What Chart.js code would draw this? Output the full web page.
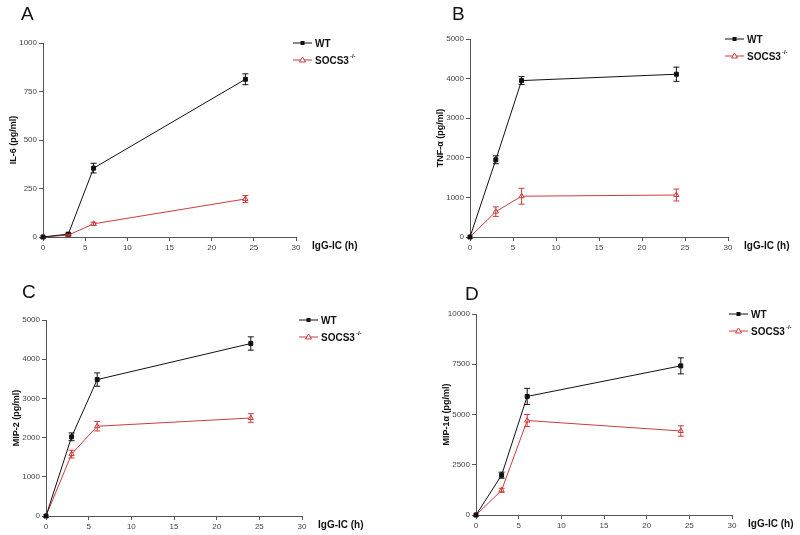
<!DOCTYPE html>
<html>
<head>
<meta charset="utf-8">
<script src="https://cdn.jsdelivr.net/npm/chart.js@4.4.1/dist/chart.umd.min.js"></script>
<style>
  body { margin: 0; background: #fff; }
  #wrap { position: relative; width: 800px; height: 535px; overflow: hidden; font-family: "Liberation Sans", Arial, sans-serif; }
  .panel { position: absolute; }
  .letter { position: absolute; font-size: 19px; color: #111; }
</style>
</head>
<body>
<div id="wrap">
  <canvas id="cA" class="panel" width="400" height="267" style="left:0;top:0"></canvas>
  <canvas id="cB" class="panel" width="400" height="267" style="left:400px;top:0"></canvas>
  <canvas id="cC" class="panel" width="400" height="268" style="left:0;top:267px"></canvas>
  <canvas id="cD" class="panel" width="400" height="268" style="left:400px;top:267px"></canvas>
  <div class="letter" style="left:21px;top:3px">A</div>
  <div class="letter" style="left:452px;top:3px">B</div>
  <div class="letter" style="left:22px;top:281px">C</div>
  <div class="letter" style="left:465px;top:283px">D</div>
</div>
<script>
// Dati (tempo in ore)
const hours = [0, 3, 6, 24];

const il6WT = [0, 15, 355, 813];
const il6WTErr = [0, 5, 25, 28];
const il6KO = [0, 10, 68, 196];
const il6KOErr = [0, 4, 8, 18];

const tnfWT = [0, 1950, 3950, 4110];
const tnfWTErr = [0, 100, 100, 180];
const tnfKO = [0, 640, 1030, 1060];
const tnfKOErr = [0, 120, 200, 150];

const mip2WT = [0, 2020, 3480, 4400];
const mip2WTErr = [0, 100, 170, 170];
const mip2KO = [0, 1580, 2290, 2500];
const mip2KOErr = [0, 100, 120, 110];

const mip1aWT = [0, 1980, 5900, 7420];
const mip1aWTErr = [0, 150, 400, 400];
const mip1aKO = [0, 1230, 4700, 4180];
const mip1aKOErr = [0, 100, 300, 260];

const seriesLabels = ["WT", "SOCS3"];
const xTitle = "IgG-IC (h)";

const BLACK = "#111111";
const RED = "#cc3b3b";
const AXIS = "#555555";
const FONT = "'Liberation Sans', Arial, sans-serif";

// Barre di errore
const errorBarsPlugin = {
  id: "errorBars",
  afterDatasetsDraw(chart) {
    const ctx = chart.ctx;
    const y = chart.scales.y;
    chart.data.datasets.forEach((ds, i) => {
      const meta = chart.getDatasetMeta(i);
      ctx.save();
      ctx.strokeStyle = ds.borderColor;
      ctx.lineWidth = 1;
      meta.data.forEach((pt, j) => {
        const e = ds.errors[j];
        if (!e) return;
        const v = ds.data[j].y;
        const y1 = y.getPixelForValue(v + e);
        const y2 = y.getPixelForValue(v - e);
        ctx.beginPath();
        ctx.moveTo(pt.x, y1); ctx.lineTo(pt.x, y2);
        ctx.moveTo(pt.x - 3, y1); ctx.lineTo(pt.x + 3, y1);
        ctx.moveTo(pt.x - 3, y2); ctx.lineTo(pt.x + 3, y2);
        ctx.stroke();
      });
      ctx.restore();
    });
  },
};

// Legenda e titolo asse x
const extrasPlugin = {
  id: "extras",
  afterDraw(chart) {
    const ctx = chart.ctx;
    const a = chart.chartArea;
    ctx.save();
    chart.data.datasets.forEach((ds, i) => {
      const ly = a.top + i * 17;
      const lx = a.right - 3;
      ctx.strokeStyle = ds.borderColor;
      ctx.lineWidth = 1;
      ctx.beginPath();
      ctx.moveTo(lx, ly); ctx.lineTo(lx + 19, ly);
      ctx.stroke();
      const mx = lx + 9.5;
      ctx.fillStyle = ds.pointBackgroundColor;
      ctx.beginPath();
      if (i === 0) {
        ctx.rect(mx - 2, ly - 2, 4, 4);
        ctx.fill();
      } else {
        ctx.moveTo(mx, ly - 3); ctx.lineTo(mx + 3, ly + 2); ctx.lineTo(mx - 3, ly + 2);
        ctx.closePath();
        ctx.fill(); ctx.stroke();
      }
      ctx.fillStyle = BLACK;
      ctx.font = "bold 10px " + FONT;
      ctx.textBaseline = "middle";
      ctx.textAlign = "left";
      const tx = lx + 22;
      ctx.fillText(ds.label, tx, ly + 1);
      if (i === 1) {
        const w = ctx.measureText(ds.label).width;
        ctx.font = "bold 6px " + FONT;
        ctx.fillText("-/-", tx + w + 1, ly - 4);
      }
    });
    ctx.fillStyle = BLACK;
    ctx.font = "bold 10px " + FONT;
    ctx.textBaseline = "middle";
    ctx.textAlign = "left";
    ctx.fillText(xTitle, a.right + 16, a.bottom + 9);
    ctx.restore();
  },
};

const makePanel = (id, ox, oy, W, H, area, yTitle, yMax, yStep, wt, wtErr, ko, koErr) => {
  const yWidth = 43;
  const xHeight = 18;
  const toPts = (arr) => arr.map((v, i) => ({ x: hours[i], y: v }));
  new Chart(document.getElementById(id), {
    type: "scatter",
    data: {
      datasets: [
        {
          label: seriesLabels[0],
          data: toPts(wt),
          errors: wtErr,
          showLine: true,
          borderColor: BLACK,
          borderWidth: 1,
          pointStyle: "rect",
          pointRadius: 2.8,
          pointBackgroundColor: BLACK,
          pointBorderColor: BLACK,
          clip: false,
        },
        {
          label: seriesLabels[1],
          data: toPts(ko),
          errors: koErr,
          showLine: true,
          borderColor: RED,
          borderWidth: 1,
          pointStyle: "triangle",
          pointRadius: 3,
          pointBackgroundColor: "#ffffff",
          pointBorderColor: RED,
          clip: false,
        },
      ],
    },
    options: {
      responsive: false,
      animation: false,
      events: [],
      layout: {
        padding: {
          left: area.left - ox - yWidth,
          top: area.top - oy,
          right: ox + W - area.right,
          bottom: oy + H - area.bottom - xHeight,
        },
      },
      plugins: { legend: { display: false }, tooltip: { enabled: false } },
      scales: {
        x: {
          type: "linear",
          min: 0,
          max: 30,
          ticks: {
            stepSize: 5, color: "#444", font: { size: 8, family: FONT }, padding: 2, maxRotation: 0,
            callback: (v) => String(v),
          },
          grid: { drawOnChartArea: false, color: AXIS, tickLength: 4 },
          border: { color: AXIS, width: 1 },
          afterFit: (s) => { s.height = xHeight; },
        },
        y: {
          min: 0,
          max: yMax,
          ticks: {
            stepSize: yStep, color: "#444", font: { size: 8, family: FONT }, padding: 2,
            callback: (v) => String(v),
          },
          grid: { drawOnChartArea: false, color: AXIS, tickLength: 4 },
          border: { color: AXIS, width: 1 },
          title: {
            display: true,
            text: yTitle,
            color: BLACK,
            font: { size: 9, weight: "bold", family: FONT },
            padding: { top: 8, bottom: 0 },
          },
          afterFit: (s) => { s.width = yWidth; },
        },
      },
    },
    plugins: [errorBarsPlugin, extrasPlugin],
  });
};

makePanel("cA", 0, 0, 400, 267, { left: 43, right: 296, top: 43, bottom: 237 },
  "IL-6 (pg/ml)", 1000, 250, il6WT, il6WTErr, il6KO, il6KOErr);
makePanel("cB", 400, 0, 400, 267, { left: 470, right: 728, top: 39, bottom: 237 },
  "TNF-α (pg/ml)", 5000, 1000, tnfWT, tnfWTErr, tnfKO, tnfKOErr);
makePanel("cC", 0, 267, 400, 268, { left: 46, right: 302, top: 320, bottom: 516 },
  "MIP-2 (pg/ml)", 5000, 1000, mip2WT, mip2WTErr, mip2KO, mip2KOErr);
makePanel("cD", 400, 267, 400, 268, { left: 476, right: 732, top: 314, bottom: 515 },
  "MIP-1α (pg/ml)", 10000, 2500, mip1aWT, mip1aWTErr, mip1aKO, mip1aKOErr);
</script>
</body>
</html>
